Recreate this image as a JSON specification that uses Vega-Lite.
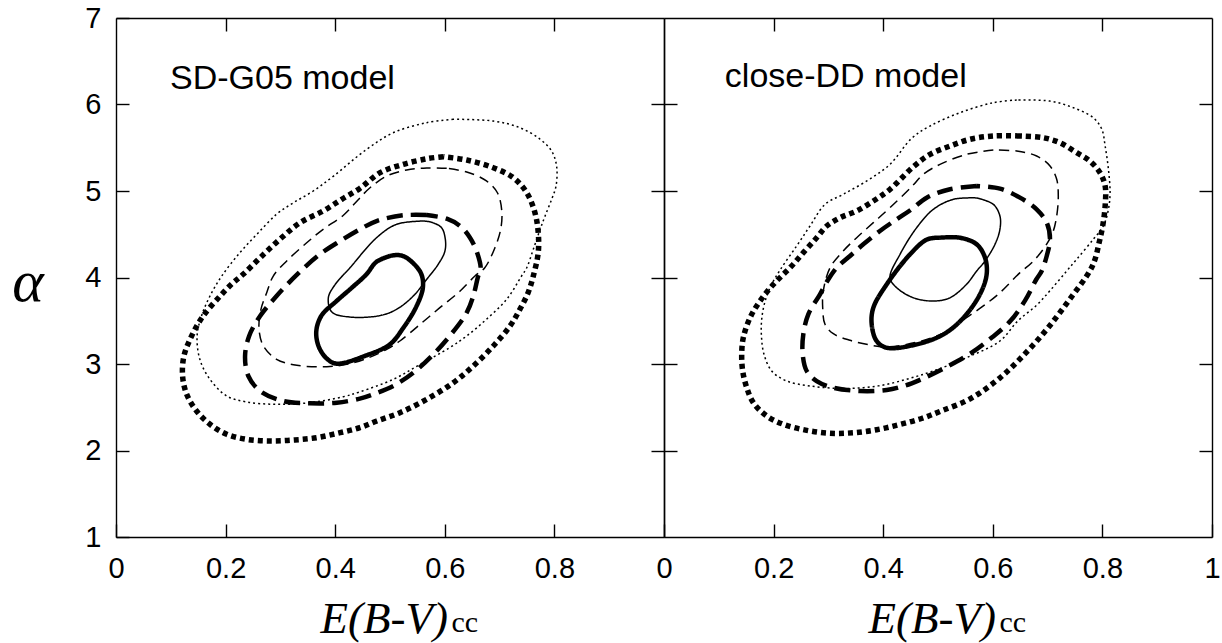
{
  "$schema": "https://vega.github.io/schema/vega-lite/v6.json",
  "padding": {"left": 11, "top": 4, "right": 2, "bottom": 2},
  "background": "white",
  "config": {
    "view": {"stroke": null},
    "axis": {
      "grid": false,
      "domainColor": "black",
      "domainWidth": 1.4,
      "tickColor": "black",
      "tickWidth": 1.4,
      "tickSize": -13,
      "labelColor": "black",
      "titleColor": "black",
      "labelFont": "Liberation Sans",
      "labelFontSize": 29,
      "labelFlush": false,
      "labelOverlap": false
    }
  },
  "datasets": {
    "contours": [
      {"p":"L","c":"ts","i":0,"x":0.5605,"y":4.653},{"p":"L","c":"ts","i":1,"x":0.512,"y":4.615},{"p":"L","c":"ts","i":2,"x":0.4755,"y":4.46},{"p":"L","c":"ts","i":3,"x":0.427,"y":4.113},{"p":"L","c":"ts","i":4,"x":0.40,"y":3.92},{"p":"L","c":"ts","i":5,"x":0.3875,"y":3.766},{"p":"L","c":"ts","i":6,"x":0.394,"y":3.6},{"p":"L","c":"ts","i":7,"x":0.427,"y":3.543},{"p":"L","c":"ts","i":8,"x":0.482,"y":3.56},{"p":"L","c":"ts","i":9,"x":0.512,"y":3.632},{"p":"L","c":"ts","i":10,"x":0.5425,"y":3.786},{"p":"L","c":"ts","i":11,"x":0.567,"y":3.979},{"p":"L","c":"ts","i":12,"x":0.588,"y":4.153},{"p":"L","c":"ts","i":13,"x":0.6,"y":4.3},{"p":"L","c":"ts","i":14,"x":0.601,"y":4.44},{"p":"L","c":"ts","i":15,"x":0.594,"y":4.576},{"p":"L","c":"ts","i":16,"x":0.575,"y":4.64},{"p":"L","c":"ts","i":17,"x":0.5605,"y":4.653},

      {"p":"L","c":"ks","i":0,"x":0.5,"y":4.249},{"p":"L","c":"ks","i":1,"x":0.475,"y":4.18},{"p":"L","c":"ks","i":2,"x":0.457,"y":4.037},{"p":"L","c":"ks","i":3,"x":0.43,"y":3.88},{"p":"L","c":"ks","i":4,"x":0.4025,"y":3.728},{"p":"L","c":"ks","i":5,"x":0.375,"y":3.56},{"p":"L","c":"ks","i":6,"x":0.3655,"y":3.38},{"p":"L","c":"ks","i":7,"x":0.37,"y":3.2},{"p":"L","c":"ks","i":8,"x":0.385,"y":3.06},{"p":"L","c":"ks","i":9,"x":0.4025,"y":3.004},{"p":"L","c":"ks","i":10,"x":0.457,"y":3.10},{"p":"L","c":"ks","i":11,"x":0.5,"y":3.228},{"p":"L","c":"ks","i":12,"x":0.5245,"y":3.42},{"p":"L","c":"ks","i":13,"x":0.547,"y":3.651},{"p":"L","c":"ks","i":14,"x":0.56,"y":3.882},{"p":"L","c":"ks","i":15,"x":0.556,"y":4.056},{"p":"L","c":"ks","i":16,"x":0.53,"y":4.229},{"p":"L","c":"ks","i":17,"x":0.515,"y":4.26},{"p":"L","c":"ks","i":18,"x":0.5,"y":4.249},

      {"p":"L","c":"td","i":0,"x":0.6035,"y":5.262},{"p":"L","c":"td","i":1,"x":0.567,"y":5.266},{"p":"L","c":"td","i":2,"x":0.5305,"y":5.243},{"p":"L","c":"td","i":3,"x":0.494,"y":5.173},{"p":"L","c":"td","i":4,"x":0.4635,"y":5.038},{"p":"L","c":"td","i":5,"x":0.442,"y":4.90},{"p":"L","c":"td","i":6,"x":0.415,"y":4.72},{"p":"L","c":"td","i":7,"x":0.378,"y":4.557},{"p":"L","c":"td","i":8,"x":0.348,"y":4.402},{"p":"L","c":"td","i":9,"x":0.3115,"y":4.191},{"p":"L","c":"td","i":10,"x":0.287,"y":4.017},{"p":"L","c":"td","i":11,"x":0.275,"y":3.824},{"p":"L","c":"td","i":12,"x":0.2645,"y":3.632},{"p":"L","c":"td","i":13,"x":0.261,"y":3.401},{"p":"L","c":"td","i":14,"x":0.269,"y":3.208},{"p":"L","c":"td","i":15,"x":0.293,"y":3.054},{"p":"L","c":"td","i":16,"x":0.330,"y":2.985},{"p":"L","c":"td","i":17,"x":0.3845,"y":2.969},{"p":"L","c":"td","i":18,"x":0.421,"y":2.996},{"p":"L","c":"td","i":19,"x":0.46,"y":3.07},{"p":"L","c":"td","i":20,"x":0.494,"y":3.17},{"p":"L","c":"td","i":21,"x":0.518,"y":3.266},{"p":"L","c":"td","i":22,"x":0.555,"y":3.459},{"p":"L","c":"td","i":23,"x":0.591,"y":3.651},{"p":"L","c":"td","i":24,"x":0.628,"y":3.844},{"p":"L","c":"td","i":25,"x":0.655,"y":4.017},{"p":"L","c":"td","i":26,"x":0.673,"y":4.113},{"p":"L","c":"td","i":27,"x":0.6915,"y":4.345},{"p":"L","c":"td","i":28,"x":0.702,"y":4.557},{"p":"L","c":"td","i":29,"x":0.704,"y":4.769},{"p":"L","c":"td","i":30,"x":0.696,"y":4.98},{"p":"L","c":"td","i":31,"x":0.676,"y":5.116},{"p":"L","c":"td","i":32,"x":0.640,"y":5.22},{"p":"L","c":"td","i":33,"x":0.6035,"y":5.262},

      {"p":"L","c":"kd","i":0,"x":0.567,"y":4.722},{"p":"L","c":"kd","i":1,"x":0.524,"y":4.719},{"p":"L","c":"kd","i":2,"x":0.4755,"y":4.653},{"p":"L","c":"kd","i":3,"x":0.445,"y":4.557},{"p":"L","c":"kd","i":4,"x":0.409,"y":4.422},{"p":"L","c":"kd","i":5,"x":0.372,"y":4.268},{"p":"L","c":"kd","i":6,"x":0.333,"y":4.05},{"p":"L","c":"kd","i":7,"x":0.293,"y":3.786},{"p":"L","c":"kd","i":8,"x":0.263,"y":3.555},{"p":"L","c":"kd","i":9,"x":0.243,"y":3.324},{"p":"L","c":"kd","i":10,"x":0.2355,"y":3.092},{"p":"L","c":"kd","i":11,"x":0.2415,"y":2.861},{"p":"L","c":"kd","i":12,"x":0.263,"y":2.688},{"p":"L","c":"kd","i":13,"x":0.305,"y":2.572},{"p":"L","c":"kd","i":14,"x":0.354,"y":2.546},{"p":"L","c":"kd","i":15,"x":0.403,"y":2.553},{"p":"L","c":"kd","i":16,"x":0.445,"y":2.60},{"p":"L","c":"kd","i":17,"x":0.4695,"y":2.65},{"p":"L","c":"kd","i":18,"x":0.506,"y":2.746},{"p":"L","c":"kd","i":19,"x":0.5425,"y":2.899},{"p":"L","c":"kd","i":20,"x":0.576,"y":3.092},{"p":"L","c":"kd","i":21,"x":0.609,"y":3.324},{"p":"L","c":"kd","i":22,"x":0.640,"y":3.593},{"p":"L","c":"kd","i":23,"x":0.652,"y":3.786},{"p":"L","c":"kd","i":24,"x":0.661,"y":4.017},{"p":"L","c":"kd","i":25,"x":0.6655,"y":4.094},{"p":"L","c":"kd","i":26,"x":0.659,"y":4.287},{"p":"L","c":"kd","i":27,"x":0.646,"y":4.46},{"p":"L","c":"kd","i":28,"x":0.628,"y":4.595},{"p":"L","c":"kd","i":29,"x":0.6035,"y":4.68},{"p":"L","c":"kd","i":30,"x":0.567,"y":4.722},

      {"p":"L","c":"to","i":0,"x":0.6155,"y":5.829},{"p":"L","c":"to","i":1,"x":0.567,"y":5.79},{"p":"L","c":"to","i":2,"x":0.506,"y":5.674},{"p":"L","c":"to","i":3,"x":0.4575,"y":5.482},{"p":"L","c":"to","i":4,"x":0.397,"y":5.173},{"p":"L","c":"to","i":5,"x":0.360,"y":5.0},{"p":"L","c":"to","i":6,"x":0.324,"y":4.865},{"p":"L","c":"to","i":7,"x":0.293,"y":4.731},{"p":"L","c":"to","i":8,"x":0.257,"y":4.499},{"p":"L","c":"to","i":9,"x":0.226,"y":4.287},{"p":"L","c":"to","i":10,"x":0.193,"y":4.017},{"p":"L","c":"to","i":11,"x":0.1715,"y":3.786},{"p":"L","c":"to","i":12,"x":0.156,"y":3.555},{"p":"L","c":"to","i":13,"x":0.148,"y":3.324},{"p":"L","c":"to","i":14,"x":0.153,"y":3.054},{"p":"L","c":"to","i":15,"x":0.1715,"y":2.823},{"p":"L","c":"to","i":16,"x":0.202,"y":2.630},{"p":"L","c":"to","i":17,"x":0.2385,"y":2.561},{"p":"L","c":"to","i":18,"x":0.293,"y":2.534},{"p":"L","c":"to","i":19,"x":0.354,"y":2.553},{"p":"L","c":"to","i":20,"x":0.415,"y":2.622},{"p":"L","c":"to","i":21,"x":0.445,"y":2.678},{"p":"L","c":"to","i":22,"x":0.506,"y":2.823},{"p":"L","c":"to","i":23,"x":0.555,"y":2.996},{"p":"L","c":"to","i":24,"x":0.609,"y":3.189},{"p":"L","c":"to","i":25,"x":0.640,"y":3.324},{"p":"L","c":"to","i":26,"x":0.676,"y":3.517},{"p":"L","c":"to","i":27,"x":0.713,"y":3.748},{"p":"L","c":"to","i":28,"x":0.740,"y":4.017},{"p":"L","c":"to","i":29,"x":0.7495,"y":4.113},{"p":"L","c":"to","i":30,"x":0.7615,"y":4.326},{"p":"L","c":"to","i":31,"x":0.774,"y":4.557},{"p":"L","c":"to","i":32,"x":0.783,"y":4.711},{"p":"L","c":"to","i":33,"x":0.795,"y":4.904},{"p":"L","c":"to","i":34,"x":0.803,"y":5.058},{"p":"L","c":"to","i":35,"x":0.804,"y":5.289},{"p":"L","c":"to","i":36,"x":0.795,"y":5.462},{"p":"L","c":"to","i":37,"x":0.774,"y":5.598},{"p":"L","c":"to","i":38,"x":0.737,"y":5.732},{"p":"L","c":"to","i":39,"x":0.6885,"y":5.809},{"p":"L","c":"to","i":40,"x":0.6155,"y":5.829},

      {"p":"L","c":"ko","i":0,"x":0.597,"y":5.397},{"p":"L","c":"ko","i":1,"x":0.567,"y":5.373},{"p":"L","c":"ko","i":2,"x":0.524,"y":5.308},{"p":"L","c":"ko","i":3,"x":0.482,"y":5.212},{"p":"L","c":"ko","i":4,"x":0.445,"y":5.03},{"p":"L","c":"ko","i":5,"x":0.412,"y":4.904},{"p":"L","c":"ko","i":6,"x":0.378,"y":4.769},{"p":"L","c":"ko","i":7,"x":0.336,"y":4.634},{"p":"L","c":"ko","i":8,"x":0.299,"y":4.442},{"p":"L","c":"ko","i":9,"x":0.263,"y":4.229},{"p":"L","c":"ko","i":10,"x":0.232,"y":4.037},{"p":"L","c":"ko","i":11,"x":0.212,"y":3.93},{"p":"L","c":"ko","i":12,"x":0.190,"y":3.786},{"p":"L","c":"ko","i":13,"x":0.159,"y":3.555},{"p":"L","c":"ko","i":14,"x":0.138,"y":3.324},{"p":"L","c":"ko","i":15,"x":0.124,"y":3.092},{"p":"L","c":"ko","i":16,"x":0.1215,"y":2.861},{"p":"L","c":"ko","i":17,"x":0.129,"y":2.65},{"p":"L","c":"ko","i":18,"x":0.147,"y":2.457},{"p":"L","c":"ko","i":19,"x":0.1715,"y":2.303},{"p":"L","c":"ko","i":20,"x":0.202,"y":2.187},{"p":"L","c":"ko","i":21,"x":0.2385,"y":2.129},{"p":"L","c":"ko","i":22,"x":0.281,"y":2.110},{"p":"L","c":"ko","i":23,"x":0.3235,"y":2.121},{"p":"L","c":"ko","i":24,"x":0.366,"y":2.148},{"p":"L","c":"ko","i":25,"x":0.409,"y":2.206},{"p":"L","c":"ko","i":26,"x":0.445,"y":2.264},{"p":"L","c":"ko","i":27,"x":0.476,"y":2.341},{"p":"L","c":"ko","i":28,"x":0.518,"y":2.437},{"p":"L","c":"ko","i":29,"x":0.567,"y":2.592},{"p":"L","c":"ko","i":30,"x":0.6155,"y":2.784},{"p":"L","c":"ko","i":31,"x":0.652,"y":2.977},{"p":"L","c":"ko","i":32,"x":0.6885,"y":3.208},{"p":"L","c":"ko","i":33,"x":0.719,"y":3.439},{"p":"L","c":"ko","i":34,"x":0.737,"y":3.632},{"p":"L","c":"ko","i":35,"x":0.752,"y":3.824},{"p":"L","c":"ko","i":36,"x":0.7615,"y":4.017},{"p":"L","c":"ko","i":37,"x":0.7705,"y":4.287},{"p":"L","c":"ko","i":38,"x":0.7705,"y":4.518},{"p":"L","c":"ko","i":39,"x":0.7645,"y":4.749},{"p":"L","c":"ko","i":40,"x":0.7495,"y":4.98},{"p":"L","c":"ko","i":41,"x":0.725,"y":5.154},{"p":"L","c":"ko","i":42,"x":0.6885,"y":5.269},{"p":"L","c":"ko","i":43,"x":0.640,"y":5.358},{"p":"L","c":"ko","i":44,"x":0.597,"y":5.397},

      {"p":"R","c":"ts","i":0,"x":0.5706,"y":4.92},{"p":"R","c":"ts","i":1,"x":0.528,"y":4.904},{"p":"R","c":"ts","i":2,"x":0.4915,"y":4.788},{"p":"R","c":"ts","i":3,"x":0.4611,"y":4.576},{"p":"R","c":"ts","i":4,"x":0.4307,"y":4.268},{"p":"R","c":"ts","i":5,"x":0.4124,"y":3.998},{"p":"R","c":"ts","i":6,"x":0.4246,"y":3.882},{"p":"R","c":"ts","i":7,"x":0.455,"y":3.766},{"p":"R","c":"ts","i":8,"x":0.4915,"y":3.728},{"p":"R","c":"ts","i":9,"x":0.522,"y":3.766},{"p":"R","c":"ts","i":10,"x":0.552,"y":3.921},{"p":"R","c":"ts","i":11,"x":0.5706,"y":4.075},{"p":"R","c":"ts","i":12,"x":0.5858,"y":4.191},{"p":"R","c":"ts","i":13,"x":0.604,"y":4.384},{"p":"R","c":"ts","i":14,"x":0.613,"y":4.557},{"p":"R","c":"ts","i":15,"x":0.613,"y":4.711},{"p":"R","c":"ts","i":16,"x":0.601,"y":4.846},{"p":"R","c":"ts","i":17,"x":0.5706,"y":4.92},

      {"p":"R","c":"ks","i":0,"x":0.5036,"y":4.46},{"p":"R","c":"ks","i":1,"x":0.48,"y":4.44},{"p":"R","c":"ks","i":2,"x":0.449,"y":4.268},{"p":"R","c":"ks","i":3,"x":0.4064,"y":3.921},{"p":"R","c":"ks","i":4,"x":0.382,"y":3.651},{"p":"R","c":"ks","i":5,"x":0.379,"y":3.459},{"p":"R","c":"ks","i":6,"x":0.388,"y":3.266},{"p":"R","c":"ks","i":7,"x":0.4064,"y":3.188},{"p":"R","c":"ks","i":8,"x":0.4611,"y":3.227},{"p":"R","c":"ks","i":9,"x":0.51,"y":3.343},{"p":"R","c":"ks","i":10,"x":0.5465,"y":3.535},{"p":"R","c":"ks","i":11,"x":0.5766,"y":3.806},{"p":"R","c":"ks","i":12,"x":0.5888,"y":4.037},{"p":"R","c":"ks","i":13,"x":0.5858,"y":4.229},{"p":"R","c":"ks","i":14,"x":0.5706,"y":4.384},{"p":"R","c":"ks","i":15,"x":0.540,"y":4.46},{"p":"R","c":"ks","i":16,"x":0.5036,"y":4.46},

      {"p":"R","c":"td","i":0,"x":0.601,"y":5.474},{"p":"R","c":"td","i":1,"x":0.5523,"y":5.424},{"p":"R","c":"td","i":2,"x":0.5036,"y":5.308},{"p":"R","c":"td","i":3,"x":0.4732,"y":5.193},{"p":"R","c":"td","i":4,"x":0.452,"y":5.05},{"p":"R","c":"td","i":5,"x":0.4124,"y":4.807},{"p":"R","c":"td","i":6,"x":0.382,"y":4.634},{"p":"R","c":"td","i":7,"x":0.3516,"y":4.46},{"p":"R","c":"td","i":8,"x":0.327,"y":4.306},{"p":"R","c":"td","i":9,"x":0.303,"y":4.113},{"p":"R","c":"td","i":10,"x":0.2907,"y":3.844},{"p":"R","c":"td","i":11,"x":0.2896,"y":3.651},{"p":"R","c":"td","i":12,"x":0.2938,"y":3.459},{"p":"R","c":"td","i":13,"x":0.309,"y":3.35},{"p":"R","c":"td","i":14,"x":0.3394,"y":3.274},{"p":"R","c":"td","i":15,"x":0.3759,"y":3.22},{"p":"R","c":"td","i":16,"x":0.4064,"y":3.197},{"p":"R","c":"td","i":17,"x":0.46,"y":3.25},{"p":"R","c":"td","i":18,"x":0.50,"y":3.33},{"p":"R","c":"td","i":19,"x":0.528,"y":3.42},{"p":"R","c":"td","i":20,"x":0.552,"y":3.535},{"p":"R","c":"td","i":21,"x":0.5827,"y":3.671},{"p":"R","c":"td","i":22,"x":0.613,"y":3.824},{"p":"R","c":"td","i":23,"x":0.6496,"y":4.056},{"p":"R","c":"td","i":24,"x":0.671,"y":4.171},{"p":"R","c":"td","i":25,"x":0.692,"y":4.326},{"p":"R","c":"td","i":26,"x":0.7093,"y":4.518},{"p":"R","c":"td","i":27,"x":0.7166,"y":4.711},{"p":"R","c":"td","i":28,"x":0.7195,"y":4.942},{"p":"R","c":"td","i":29,"x":0.7166,"y":5.135},{"p":"R","c":"td","i":30,"x":0.7044,"y":5.289},{"p":"R","c":"td","i":31,"x":0.680,"y":5.405},{"p":"R","c":"td","i":32,"x":0.6436,"y":5.462},{"p":"R","c":"td","i":33,"x":0.601,"y":5.474},

      {"p":"R","c":"kd","i":0,"x":0.5706,"y":5.058},{"p":"R","c":"kd","i":1,"x":0.522,"y":5.02},{"p":"R","c":"kd","i":2,"x":0.4794,"y":4.923},{"p":"R","c":"kd","i":3,"x":0.45,"y":4.78},{"p":"R","c":"kd","i":4,"x":0.4246,"y":4.673},{"p":"R","c":"kd","i":5,"x":0.394,"y":4.538},{"p":"R","c":"kd","i":6,"x":0.3637,"y":4.384},{"p":"R","c":"kd","i":7,"x":0.3394,"y":4.249},{"p":"R","c":"kd","i":8,"x":0.3151,"y":4.113},{"p":"R","c":"kd","i":9,"x":0.30,"y":3.98},{"p":"R","c":"kd","i":10,"x":0.2847,"y":3.806},{"p":"R","c":"kd","i":11,"x":0.2633,"y":3.574},{"p":"R","c":"kd","i":12,"x":0.2542,"y":3.343},{"p":"R","c":"kd","i":13,"x":0.2531,"y":3.112},{"p":"R","c":"kd","i":14,"x":0.2604,"y":2.919},{"p":"R","c":"kd","i":15,"x":0.2786,"y":2.803},{"p":"R","c":"kd","i":16,"x":0.309,"y":2.726},{"p":"R","c":"kd","i":17,"x":0.3577,"y":2.688},{"p":"R","c":"kd","i":18,"x":0.4064,"y":2.70},{"p":"R","c":"kd","i":19,"x":0.44,"y":2.75},{"p":"R","c":"kd","i":20,"x":0.4662,"y":2.814},{"p":"R","c":"kd","i":21,"x":0.5128,"y":2.956},{"p":"R","c":"kd","i":22,"x":0.5594,"y":3.122},{"p":"R","c":"kd","i":23,"x":0.5994,"y":3.312},{"p":"R","c":"kd","i":24,"x":0.6327,"y":3.502},{"p":"R","c":"kd","i":25,"x":0.6593,"y":3.739},{"p":"R","c":"kd","i":26,"x":0.6793,"y":3.977},{"p":"R","c":"kd","i":27,"x":0.6892,"y":4.075},{"p":"R","c":"kd","i":28,"x":0.6984,"y":4.249},{"p":"R","c":"kd","i":29,"x":0.7044,"y":4.442},{"p":"R","c":"kd","i":30,"x":0.6984,"y":4.634},{"p":"R","c":"kd","i":31,"x":0.680,"y":4.788},{"p":"R","c":"kd","i":32,"x":0.6496,"y":4.923},{"p":"R","c":"kd","i":33,"x":0.613,"y":5.027},{"p":"R","c":"kd","i":34,"x":0.5706,"y":5.058},

      {"p":"R","c":"to","i":0,"x":0.6436,"y":6.052},{"p":"R","c":"to","i":1,"x":0.601,"y":6.021},{"p":"R","c":"to","i":2,"x":0.540,"y":5.905},{"p":"R","c":"to","i":3,"x":0.4854,"y":5.751},{"p":"R","c":"to","i":4,"x":0.452,"y":5.61},{"p":"R","c":"to","i":5,"x":0.4124,"y":5.308},{"p":"R","c":"to","i":6,"x":0.37,"y":5.116},{"p":"R","c":"to","i":7,"x":0.327,"y":4.962},{"p":"R","c":"to","i":8,"x":0.2938,"y":4.846},{"p":"R","c":"to","i":9,"x":0.2664,"y":4.595},{"p":"R","c":"to","i":10,"x":0.242,"y":4.364},{"p":"R","c":"to","i":11,"x":0.2117,"y":4.085},{"p":"R","c":"to","i":12,"x":0.1934,"y":3.882},{"p":"R","c":"to","i":13,"x":0.183,"y":3.69},{"p":"R","c":"to","i":14,"x":0.178,"y":3.497},{"p":"R","c":"to","i":15,"x":0.178,"y":3.304},{"p":"R","c":"to","i":16,"x":0.1825,"y":3.112},{"p":"R","c":"to","i":17,"x":0.1965,"y":2.919},{"p":"R","c":"to","i":18,"x":0.224,"y":2.803},{"p":"R","c":"to","i":19,"x":0.2664,"y":2.746},{"p":"R","c":"to","i":20,"x":0.315,"y":2.719},{"p":"R","c":"to","i":21,"x":0.3637,"y":2.726},{"p":"R","c":"to","i":22,"x":0.4064,"y":2.765},{"p":"R","c":"to","i":23,"x":0.449,"y":2.835},{"p":"R","c":"to","i":24,"x":0.4915,"y":2.919},{"p":"R","c":"to","i":25,"x":0.552,"y":3.073},{"p":"R","c":"to","i":26,"x":0.613,"y":3.266},{"p":"R","c":"to","i":27,"x":0.646,"y":3.50},{"p":"R","c":"to","i":28,"x":0.68,"y":3.68},{"p":"R","c":"to","i":29,"x":0.706,"y":3.86},{"p":"R","c":"to","i":30,"x":0.7348,"y":4.075},{"p":"R","c":"to","i":31,"x":0.753,"y":4.21},{"p":"R","c":"to","i":32,"x":0.7834,"y":4.442},{"p":"R","c":"to","i":33,"x":0.8017,"y":4.595},{"p":"R","c":"to","i":34,"x":0.811,"y":4.788},{"p":"R","c":"to","i":35,"x":0.814,"y":4.98},{"p":"R","c":"to","i":36,"x":0.811,"y":5.251},{"p":"R","c":"to","i":37,"x":0.805,"y":5.52},{"p":"R","c":"to","i":38,"x":0.799,"y":5.713},{"p":"R","c":"to","i":39,"x":0.7834,"y":5.847},{"p":"R","c":"to","i":40,"x":0.747,"y":5.963},{"p":"R","c":"to","i":41,"x":0.704,"y":6.04},{"p":"R","c":"to","i":42,"x":0.6436,"y":6.052},

      {"p":"R","c":"ko","i":0,"x":0.6496,"y":5.636},{"p":"R","c":"ko","i":1,"x":0.601,"y":5.636},{"p":"R","c":"ko","i":2,"x":0.5584,"y":5.598},{"p":"R","c":"ko","i":3,"x":0.522,"y":5.52},{"p":"R","c":"ko","i":4,"x":0.4854,"y":5.424},{"p":"R","c":"ko","i":5,"x":0.455,"y":5.28},{"p":"R","c":"ko","i":6,"x":0.4124,"y":5.02},{"p":"R","c":"ko","i":7,"x":0.382,"y":4.884},{"p":"R","c":"ko","i":8,"x":0.3516,"y":4.769},{"p":"R","c":"ko","i":9,"x":0.3212,"y":4.691},{"p":"R","c":"ko","i":10,"x":0.2969,"y":4.595},{"p":"R","c":"ko","i":11,"x":0.2786,"y":4.46},{"p":"R","c":"ko","i":12,"x":0.2542,"y":4.287},{"p":"R","c":"ko","i":13,"x":0.23,"y":4.113},{"p":"R","c":"ko","i":14,"x":0.1995,"y":3.92},{"p":"R","c":"ko","i":15,"x":0.1752,"y":3.728},{"p":"R","c":"ko","i":16,"x":0.157,"y":3.535},{"p":"R","c":"ko","i":17,"x":0.1447,"y":3.304},{"p":"R","c":"ko","i":18,"x":0.1418,"y":3.112},{"p":"R","c":"ko","i":19,"x":0.1436,"y":2.919},{"p":"R","c":"ko","i":20,"x":0.151,"y":2.726},{"p":"R","c":"ko","i":21,"x":0.163,"y":2.553},{"p":"R","c":"ko","i":22,"x":0.1874,"y":2.399},{"p":"R","c":"ko","i":23,"x":0.2177,"y":2.303},{"p":"R","c":"ko","i":24,"x":0.2604,"y":2.233},{"p":"R","c":"ko","i":25,"x":0.303,"y":2.199},{"p":"R","c":"ko","i":26,"x":0.3454,"y":2.205},{"p":"R","c":"ko","i":27,"x":0.388,"y":2.24},{"p":"R","c":"ko","i":28,"x":0.43,"y":2.30},{"p":"R","c":"ko","i":29,"x":0.47,"y":2.37},{"p":"R","c":"ko","i":30,"x":0.5062,"y":2.458},{"p":"R","c":"ko","i":31,"x":0.5594,"y":2.60},{"p":"R","c":"ko","i":32,"x":0.6127,"y":2.838},{"p":"R","c":"ko","i":33,"x":0.6593,"y":3.122},{"p":"R","c":"ko","i":34,"x":0.6993,"y":3.407},{"p":"R","c":"ko","i":35,"x":0.7393,"y":3.739},{"p":"R","c":"ko","i":36,"x":0.777,"y":4.075},{"p":"R","c":"ko","i":37,"x":0.7865,"y":4.21},{"p":"R","c":"ko","i":38,"x":0.794,"y":4.402},{"p":"R","c":"ko","i":39,"x":0.8005,"y":4.595},{"p":"R","c":"ko","i":40,"x":0.805,"y":4.827},{"p":"R","c":"ko","i":41,"x":0.805,"y":5.058},{"p":"R","c":"ko","i":42,"x":0.7956,"y":5.212},{"p":"R","c":"ko","i":43,"x":0.777,"y":5.347},{"p":"R","c":"ko","i":44,"x":0.753,"y":5.443},{"p":"R","c":"ko","i":45,"x":0.7226,"y":5.558},{"p":"R","c":"ko","i":46,"x":0.692,"y":5.616},{"p":"R","c":"ko","i":47,"x":0.6496,"y":5.636}
    ],
    "labels": [
      {"p": "L", "t": "SD-G05 model", "x": 0.0985, "y": 6.175},
      {"p": "R", "t": "close-DD model", "x": 0.111, "y": 6.2}
    ],
    "subs": [
      {"p": "L", "t": "cc", "x": 0.612, "y": -0.1},
      {"p": "R", "t": "cc", "x": 0.612, "y": -0.1}
    ]
  },
  "spacing": 0,
  "bounds": "flush",
  "hconcat": [
    {
      "width": 548,
      "height": 519,
      "resolve": {"axis": {"x": "independent", "y": "independent"}},
      "layer": [
        {
          "data": {"name": "contours"},
          "transform": [{"filter": "datum.p === 'L'"}],
          "mark": {"type": "line", "color": "black", "interpolate": "catmull-rom", "strokeCap": "butt"},
          "encoding": {
            "x": {"field": "x", "type": "quantitative", "scale": {"domain": [0, 1], "nice": false, "zero": false},
              "axis": {"orient": "bottom", "values": [0, 0.2, 0.4, 0.6, 0.8], "format": "~g", "labelPadding": 53, "labelBaseline": "alphabetic",
                "title": "E(B-V)", "titleFont": "Liberation Serif", "titleFontStyle": "italic", "titleFontWeight": "normal", "titleFontSize": 45,
                "titleAlign": "left", "titleBaseline": "alphabetic", "titleX": 204, "titleY": 95}},
            "y": {"field": "y", "type": "quantitative", "scale": {"domain": [1, 7], "nice": false, "zero": false},
              "axis": {"orient": "left", "values": [1, 2, 3, 4, 5, 6, 7], "format": "d", "labelPadding": 28, "labelBaseline": "middle",
                "title": "α", "titleAngle": 0, "titleFont": "Liberation Serif", "titleFontStyle": "italic", "titleFontWeight": "normal", "titleFontSize": 60,
                "titleAlign": "center", "titleBaseline": "alphabetic", "titleX": -88.5, "titleY": 282}},
            "order": {"field": "i", "type": "quantitative"},
            "strokeDash": {"field": "c", "type": "nominal", "legend": null,
              "scale": {"domain": ["ts", "ks", "td", "kd", "to", "ko"], "range": [[1, 0], [1, 0], [10, 6], [16, 8], [2, 3], [5, 4]]}},
            "strokeWidth": {"condition": [{"test": "datum.c === 'ko'", "value": 5.5}, {"test": "datum.c === 'ks' || datum.c === 'kd'", "value": 4.5}], "value": 1.5}
          }
        },
        {
          "data": {"name": "labels"},
          "transform": [{"filter": "datum.p === 'L'"}],
          "mark": {"type": "text", "font": "Liberation Sans", "fontSize": 34, "align": "left", "baseline": "alphabetic", "color": "black"},
          "encoding": {
            "x": {"field": "x", "type": "quantitative", "axis": {"orient": "top", "values": [0.2, 0.4, 0.6, 0.8], "labels": false, "title": null}},
            "y": {"field": "y", "type": "quantitative", "axis": {"orient": "right", "values": [2, 3, 4, 5, 6], "labels": false, "title": null}},
            "text": {"field": "t"}
          }
        },
        {
          "data": {"name": "subs"},
          "transform": [{"filter": "datum.p === 'L'"}],
          "mark": {"type": "text", "font": "Liberation Serif", "fontSize": 30, "align": "left", "baseline": "alphabetic", "color": "black"},
          "encoding": {
            "x": {"field": "x", "type": "quantitative", "axis": null},
            "y": {"field": "y", "type": "quantitative", "axis": null},
            "text": {"field": "t"}
          }
        }
      ]
    },
    {
      "width": 548,
      "height": 519,
      "resolve": {"axis": {"x": "independent", "y": "independent"}},
      "layer": [
        {
          "data": {"name": "contours"},
          "transform": [{"filter": "datum.p === 'R'"}],
          "mark": {"type": "line", "color": "black", "interpolate": "catmull-rom", "strokeCap": "butt"},
          "encoding": {
            "x": {"field": "x", "type": "quantitative", "scale": {"domain": [0, 1], "nice": false, "zero": false},
              "axis": {"orient": "bottom", "values": [0, 0.2, 0.4, 0.6, 0.8, 1], "format": "~g", "labelPadding": 53, "labelBaseline": "alphabetic",
                "title": "E(B-V)", "titleFont": "Liberation Serif", "titleFontStyle": "italic", "titleFontWeight": "normal", "titleFontSize": 45,
                "titleAlign": "left", "titleBaseline": "alphabetic", "titleX": 204, "titleY": 95}},
            "y": {"field": "y", "type": "quantitative", "scale": {"domain": [1, 7], "nice": false, "zero": false},
              "axis": {"orient": "left", "values": [2, 3, 4, 5, 6], "labels": false, "title": null}},
            "order": {"field": "i", "type": "quantitative"},
            "strokeDash": {"field": "c", "type": "nominal", "legend": null,
              "scale": {"domain": ["ts", "ks", "td", "kd", "to", "ko"], "range": [[1, 0], [1, 0], [10, 6], [16, 8], [2, 3], [5, 4]]}},
            "strokeWidth": {"condition": [{"test": "datum.c === 'ko'", "value": 5.5}, {"test": "datum.c === 'ks' || datum.c === 'kd'", "value": 4.5}], "value": 1.5}
          }
        },
        {
          "data": {"name": "labels"},
          "transform": [{"filter": "datum.p === 'R'"}],
          "mark": {"type": "text", "font": "Liberation Sans", "fontSize": 34, "align": "left", "baseline": "alphabetic", "color": "black"},
          "encoding": {
            "x": {"field": "x", "type": "quantitative", "axis": {"orient": "top", "values": [0.2, 0.4, 0.6, 0.8], "labels": false, "title": null}},
            "y": {"field": "y", "type": "quantitative", "axis": {"orient": "right", "values": [2, 3, 4, 5, 6], "labels": false, "title": null}},
            "text": {"field": "t"}
          }
        },
        {
          "data": {"name": "subs"},
          "transform": [{"filter": "datum.p === 'R'"}],
          "mark": {"type": "text", "font": "Liberation Serif", "fontSize": 30, "align": "left", "baseline": "alphabetic", "color": "black"},
          "encoding": {
            "x": {"field": "x", "type": "quantitative", "axis": null},
            "y": {"field": "y", "type": "quantitative", "axis": null},
            "text": {"field": "t"}
          }
        }
      ]
    }
  ]
}
